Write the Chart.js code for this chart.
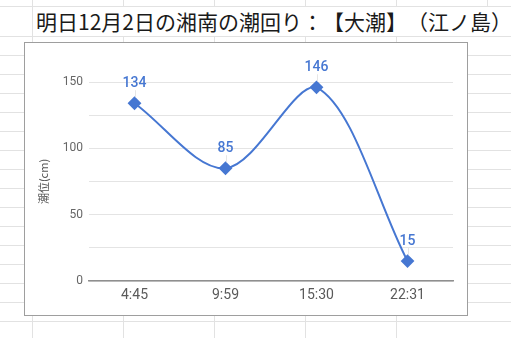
<!DOCTYPE html>
<html>
<head>
<meta charset="utf-8">
<script src="https://cdn.jsdelivr.net/npm/chart.js@4"></script>
<style>
  body { margin: 0; width: 511px; height: 338px; position: relative; overflow: hidden; background: #fff; font-family: "Noto Sans CJK JP", sans-serif; }
  .rows { position: absolute; left: 0; top: 36px; width: 511px; height: 302px;
    background: repeating-linear-gradient(to bottom, #e2e2e2 0 1px, transparent 1px 19px); }
  .cols { position: absolute; left: 32px; top: 36px; width: 365px; height: 302px;
    background: repeating-linear-gradient(to right, #e2e2e2 0 1px, transparent 1px 91px); }
  .topcols { position: absolute; left: 32px; top: 0; width: 456px; height: 6px;
    background: repeating-linear-gradient(to right, #e2e2e2 0 1px, transparent 1px 91px); }
  .topline { position: absolute; left: 0; top: 6px; width: 511px; height: 1px; background: #e2e2e2; }
  .leftcol { position: absolute; left: 32px; top: 0; width: 1px; height: 338px; background: #e2e2e2; }
  .title { position: absolute; left: 36px; top: 7px; height: 29px; line-height: 29px; font-size: 21px; color: #1a1a1a; white-space: nowrap; background: #fff; padding-right: 2px; text-spacing-trim: space-all; }
  .box { position: absolute; left: 24px; top: 42px; width: 442px; height: 272px; border: 1px solid #9e9e9e; background: #fff; }
  .box canvas { display: block; }
</style>
</head>
<body>
<div class="rows"></div>
<div class="cols"></div>
<div class="topcols"></div>
<div class="topline"></div>
<div class="leftcol"></div>
<div class="title">明日12月2日の湘南の潮回り：【大潮】（江ノ島）</div>
<div class="box"><canvas id="tide" width="442" height="272"></canvas></div>
<script>
// tide times and heights
var times = ['4:45', '9:59', '15:30', '22:31'];
var heights = [134, 85, 146, 15];
var yTitle = '潮位(cm)';

var blue = '#4677d2';

// draws the value above each point
var valueLabels = {
    id: 'valueLabels',
    afterDatasetsDraw: function(chart) {
        var ctx = chart.ctx;
        var meta = chart.getDatasetMeta(0);
        ctx.save();
        ctx.font = '500 14px Roboto';
        ctx.textAlign = 'center';
        ctx.textBaseline = 'middle';
        meta.data.forEach(function(pt, i) {
            ctx.strokeStyle = '#e6e6e6';
            ctx.lineWidth = 1;
            ctx.beginPath();
            ctx.moveTo(Math.round(pt.x) + 0.5, pt.y - 13);
            ctx.lineTo(Math.round(pt.x) + 0.5, pt.y - 6);
            ctx.stroke();
            ctx.fillStyle = blue;
            ctx.fillText(heights[i], pt.x, pt.y - 20);
        });
        ctx.restore();
    }
};

var ctx = document.getElementById('tide').getContext('2d');
var tideChart = new Chart(ctx, {
    type: 'line',
    data: {
        labels: times,
        datasets: [{
            data: heights,
            borderColor: blue,
            backgroundColor: blue,
            borderWidth: 2,
            tension: 0.33,
            pointStyle: 'rectRot',
            pointRadius: 5.5,
            pointHoverRadius: 5.5,
            clip: false
        }]
    },
    options: {
        responsive: false,
        animation: false,
        events: [],
        layout: { padding: { top: 39, right: 14, left: 0, bottom: 0 } },
        plugins: {
            legend: { display: false },
            tooltip: { enabled: false }
        },
        scales: {
            x: {
                offset: true,
                grid: { display: false, drawTicks: false },
                border: { display: true, color: '#8f8f8f', width: 1.5 },
                ticks: { color: '#5a5a5a', font: { family: 'Roboto', size: 14 }, padding: 6 },
                afterFit: function(scale) { scale.height = 34; }
            },
            y: {
                min: 0,
                max: 150,
                border: { display: false },
                grid: { color: '#e4e4e4', drawTicks: false },
                ticks: {
                    stepSize: 25,
                    color: '#666',
                    font: { family: 'Roboto', size: 12 },
                    padding: 6,
                    callback: function(v) { return v % 50 === 0 ? v : ''; }
                },
                title: {
                    display: true,
                    text: yTitle,
                    color: '#555',
                    font: { family: 'Noto Sans CJK JP', size: 11 },
                    padding: { top: 12, bottom: 0 }
                },
                afterFit: function(scale) { scale.width = 64; }
            }
        }
    },
    plugins: [valueLabels]
});
</script>
</body>
</html>
